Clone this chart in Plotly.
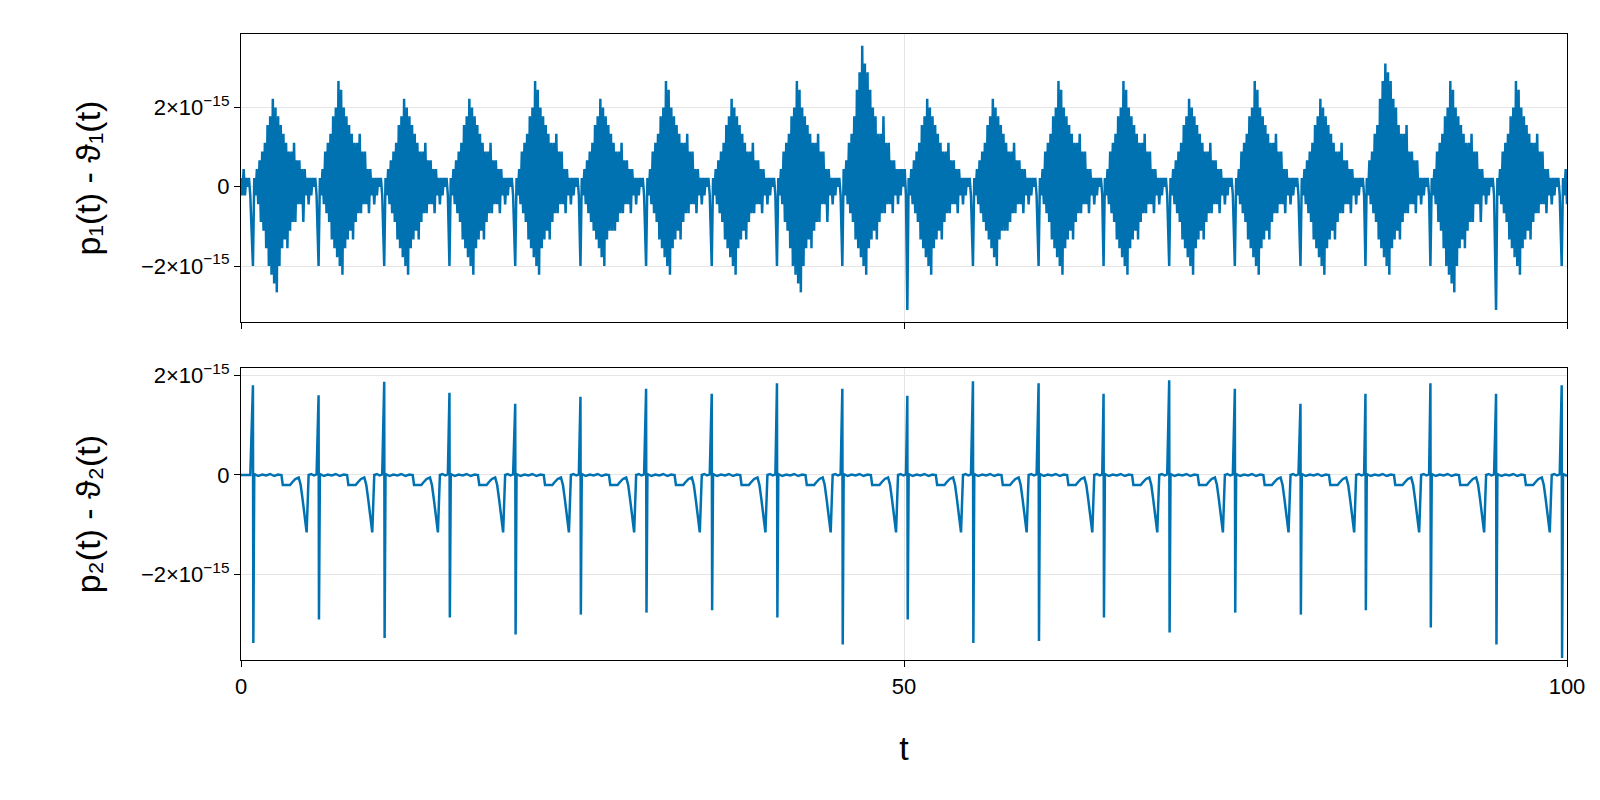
import numpy as np
import plotly.graph_objects as go

EPS = 2.22e-16
BLUE = "#0072B2"

# spike times
spike_t = [0.9, 5.85, 10.8, 15.72, 20.68, 25.6, 30.55, 35.5, 40.42, 45.35, 50.25,
           55.2, 60.15, 65.05, 70.0, 74.95, 79.9, 84.8, 89.7, 94.65, 99.6]

# lower panel: spike heights (x1e-15)
p2_up = [1.8, 1.6, 1.87, 1.65, 1.43, 1.57, 1.73, 1.63, 1.84, 1.73, 1.59,
         1.88, 1.84, 1.63, 1.9, 1.73, 1.43, 1.63, 1.84, 1.63, 1.8]
p2_down = [-3.37, -2.9, -3.27, -2.86, -3.2, -2.8, -2.76, -2.71, -2.86, -3.4, -2.9,
           -3.37, -3.33, -2.86, -3.16, -2.76, -2.8, -2.71, -3.06, -3.4, -3.67]
# lower panel: shape between spikes (offset from spike, value x1e-15)
p2_shape_off = [0.1, 0.4, 0.7, 1.0, 1.3, 1.6, 1.9, 2.15, 2.25, 2.5, 2.8, 2.95, 3.2, 3.45,
                3.6, 3.75, 3.9, 4.05, 4.2, 4.4, 4.6, 4.8]
p2_shape_val = [0.02, -0.02, 0.01, -0.01, 0.02, -0.02, 0.01, 0.0, -0.2, -0.2, -0.2, -0.15,
                -0.08, -0.05, -0.2, -0.5, -0.85, -1.15, 0.0, 0.02, -0.01, 0.01]

# upper panel: per-cycle extremes (x1e-15)
p1_max = [2.2, 2.6, 2.2, 2.2, 2.6, 2.2, 2.6, 2.2, 2.6, 3.5, 2.2,
          2.2, 2.6, 2.6, 2.2, 2.6, 2.2, 3.2, 2.6, 2.6, 2.6]
p1_min = [-2.7, -2.2, -2.2, -2.2, -2.2, -2.0, -2.2, -2.2, -2.7, -2.2, -2.2,
          -2.0, -2.2, -2.2, -2.2, -2.2, -2.2, -2.2, -2.7, -2.2, -2.2]
p1_kick = [-2.0, -2.1, -2.0, -2.1, -2.0, -2.1, -2.0, -2.1, -2.0, -2.0, -3.1,
           -2.0, -2.1, -2.0, -2.1, -2.0, -2.1, -2.0, -2.0, -3.1, -2.0]
# upper panel burst shape, relative units, samples every 0.1 after the spike
p1_shape = [1, -1, 2,
            -2, 3, -3, 4, -4, 5, -6,
            7, -7, 8, -8, 10, -9, 9, -10, 8,
            -7, 7, -6, 6, -5, 5, -6, 4, -4, 4,
            -3, 5, -3, 3, -2, 3, -2, 2, -3, 2,
            -1, 1, -2, 1, -1, 1, 0, 1, -1]
p1_lead = [0.2, -0.2, 0.4, -0.2, 0.2, 0.0, 0.2, -0.2]

def q(v):
    return np.round(v * 1e-15 / EPS) * EPS

t1, y1, t2, y2 = [], [], [], []
for i, v in enumerate(p1_lead):
    t1.append(0.1 * i); y1.append(q(v))
    t2.append(0.1 * i); y2.append(q(0.01 * (-1) ** i))
for k, ts in enumerate(spike_t):
    t1.append(ts); y1.append(q(p1_kick[k]))
    for j, v in enumerate(p1_shape):
        tt = ts + 0.1 * (j + 1)
        if tt > 100:
            break
        amp = p1_max[k] if v > 0 else -p1_min[k]
        t1.append(tt); y1.append(q(v / 10 * amp))
    t2 += [ts, ts + 0.03]
    y2 += [p2_up[k] * 1e-15, p2_down[k] * 1e-15]
    for o, v in zip(p2_shape_off, p2_shape_val):
        if ts + o > 100:
            break
        t2.append(ts + o); y2.append(v * 1e-15)

fig = go.Figure()
fig.add_trace(go.Scatter(x=t1, y=y1, mode="lines", line=dict(color=BLUE, width=2.5),
                         xaxis="x", yaxis="y", showlegend=False))
fig.add_trace(go.Scatter(x=t2, y=y2, mode="lines", line=dict(color=BLUE, width=2.5),
                         xaxis="x2", yaxis="y2", showlegend=False))

sup = "2×10<sup>−15</sup>"
ax = dict(showline=True, mirror=True, linecolor="black", linewidth=1.3, ticks="outside",
          ticklen=6, tickcolor="black", zeroline=False, gridcolor="#e5e5e5",
          automargin=False,
          tickfont=dict(family="Liberation Sans, Arial", size=22, color="black"))
fig.update_layout(
    width=1600, height=800, paper_bgcolor="white", plot_bgcolor="white",
    margin=dict(l=233, r=41, t=26, b=148),
    font=dict(family="Liberation Sans, Arial", color="black"),
    xaxis=dict(ax, range=[0, 100], anchor="y",
               tickvals=[0, 50, 100], showticklabels=False),
    yaxis=dict(ax, domain=[0.54, 1], range=[-3.41e-15, 3.85e-15], anchor="x",
               tickvals=[-2e-15, 0, 2e-15], ticktext=["−" + sup, "0", sup],
               title=dict(text="p₁(t) - ϑ₁(t)", font=dict(size=34), standoff=30)),
    xaxis2=dict(ax, range=[0, 100], anchor="y2",
                tickvals=[0, 50, 100],
                title=dict(text="t", font=dict(size=34), standoff=38)),
    yaxis2=dict(ax, domain=[0, 0.466], range=[-3.71e-15, 2.14e-15], anchor="x2",
                tickvals=[-2e-15, 0, 2e-15], ticktext=["−" + sup, "0", sup],
                title=dict(text="p₂(t) - ϑ₂(t)", font=dict(size=34), standoff=30)),
)
fig.write_html("out.html")
